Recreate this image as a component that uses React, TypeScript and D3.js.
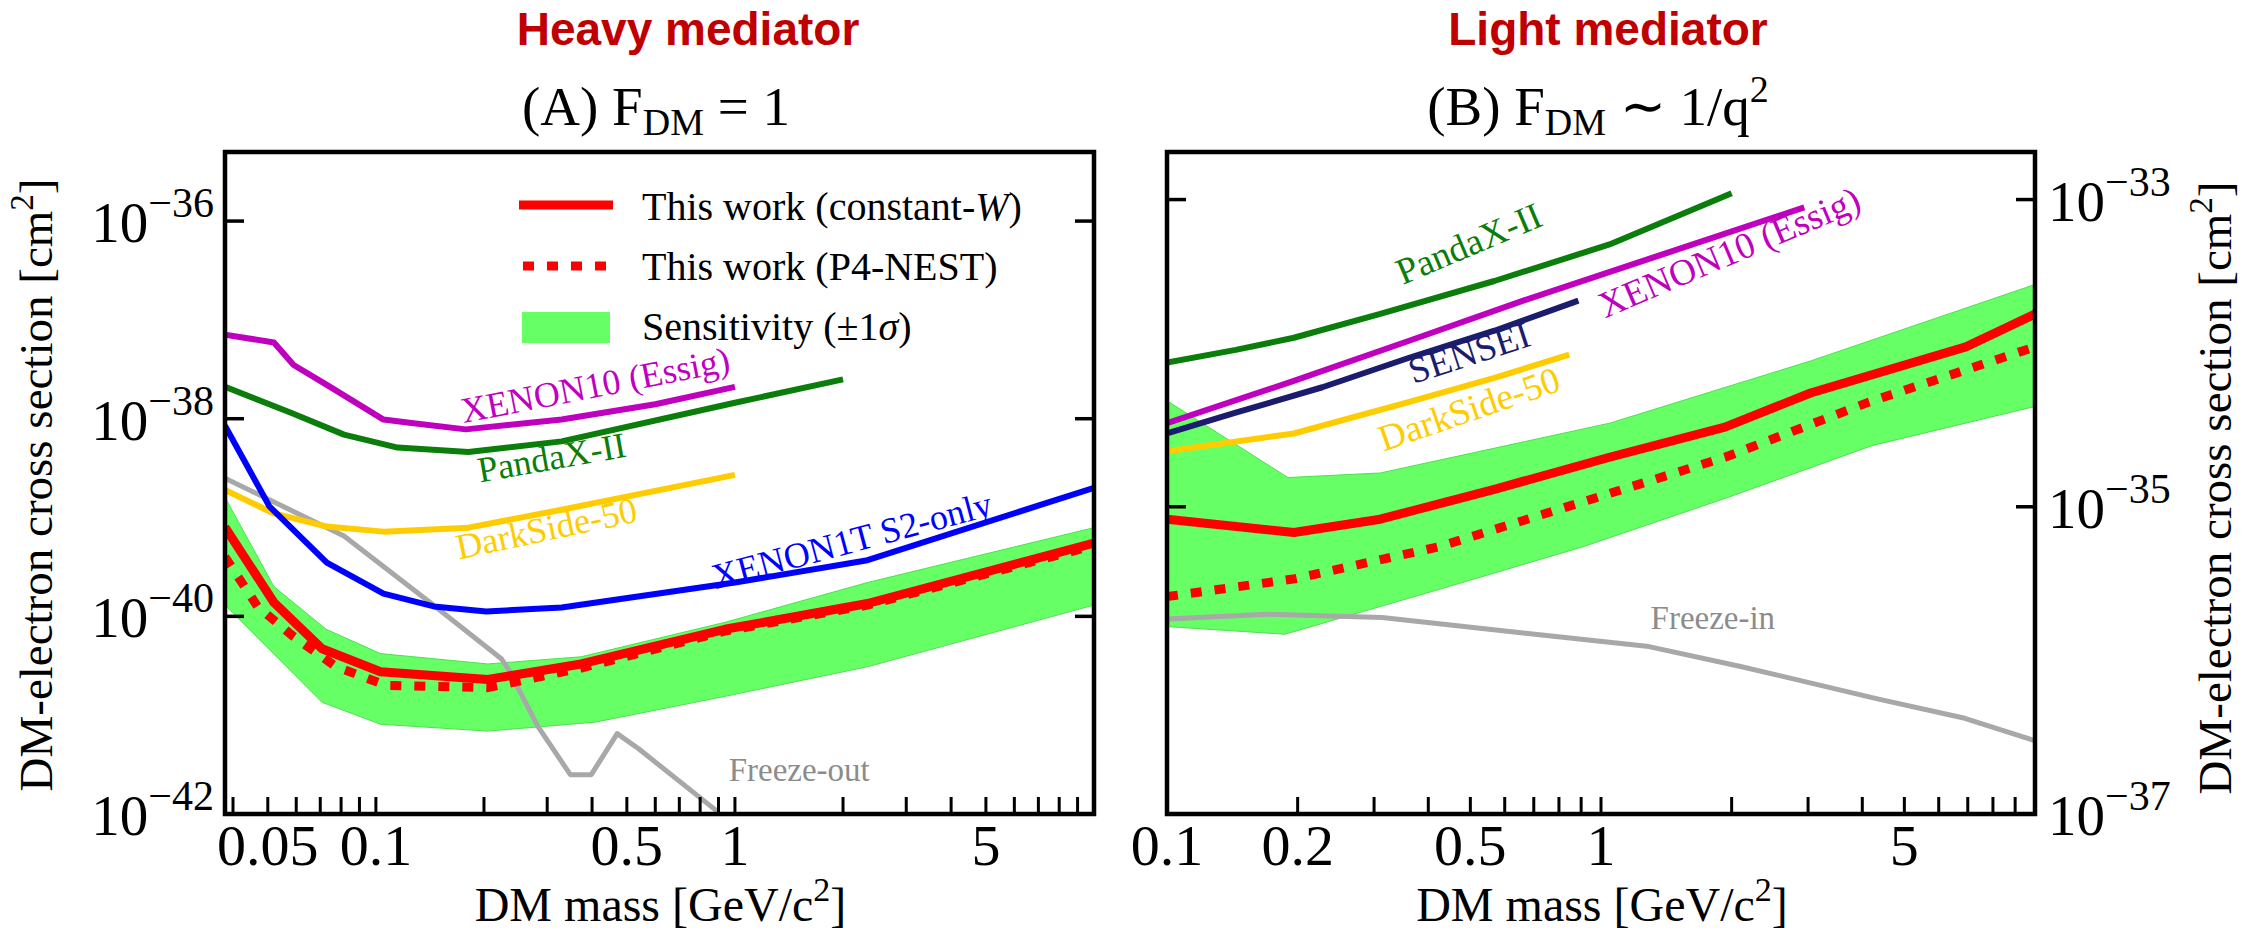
import * as d3 from 'd3'

type Pt = [number, number]

const SERIF = "'Liberation Serif','Times New Roman',serif"
const SANS = "'Liberation Sans',Arial,sans-serif"

const RED = '#ff0000'
const BAND = '#66ff66'
const C_XENON10 = '#bf00bf'
const C_PANDAX = '#0a7d0a'
const C_DARKSIDE = '#ffcc00'
const C_XENON1T = '#0000ff'
const C_SENSEI = '#1c1c6e'
const C_FREEZE = '#a8a8a8'

// ---------- (A) heavy mediator, F_DM = 1 : [mass GeV, sigma cm^2] ----------
const A_X_DOMAIN: Pt = [0.038, 10]
const A_Y_DOMAIN: Pt = [1e-42, 5.0e-36]
const A_X_TICK_LABELS = ['0.05', '0.1', '0.5', '1', '5']
const A_Y_TICKS = [1e-36, 1e-38, 1e-40, 1e-42]
const A_Y_TICK_LABELS = ['−36', '−38', '−40', '−42']

const A_BAND_UPPER: Pt[] = [
  [0.038, 1.6e-39], [0.052, 2.0e-40], [0.0727, 7.4e-41], [0.103, 4.2e-41], [0.205, 3.3e-41],
  [0.373, 3.9e-41], [0.938, 8.7e-41], [2.34, 2.2e-40], [10, 7.9e-40],
]
const A_BAND_LOWER: Pt[] = [
  [0.038, 1.3e-40], [0.0708, 1.35e-41], [0.103, 8.1e-42], [0.205, 6.9e-42], [0.408, 8.5e-42],
  [0.938, 1.55e-41], [2.35, 3.1e-41], [10, 1.3e-40],
]
const A_CONST_W: Pt[] = [
  [0.038, 8.0e-40], [0.052, 1.38e-40], [0.0708, 4.7e-41], [0.103, 2.75e-41], [0.205, 2.3e-41],
  [0.373, 3.3e-41], [0.938, 7.4e-41], [2.34, 1.35e-40], [10, 5.5e-40],
]
const A_P4_NEST: Pt[] = [
  [0.038, 4.0e-40], [0.0468, 1.26e-40], [0.0588, 6.3e-41], [0.0774, 3.1e-41], [0.107, 2.0e-41],
  [0.205, 1.9e-41], [0.373, 3.0e-41], [0.938, 7.1e-41], [2.34, 1.3e-40], [10, 5.2e-40],
]
const A_XENON10: Pt[] = [
  [0.038, 7.1e-38], [0.052, 5.9e-38], [0.059, 3.5e-38], [0.073, 2.2e-38], [0.105, 9.8e-39],
  [0.124, 9.1e-39], [0.178, 7.8e-39], [0.329, 9.8e-39], [0.6, 1.4e-38], [1.0, 2.1e-38],
]
const A_PANDAX: Pt[] = [
  [0.038, 2.1e-38], [0.058, 1.15e-38], [0.0815, 6.9e-39], [0.115, 5.1e-39], [0.181, 4.6e-39],
  [0.329, 5.9e-39], [1.0, 1.45e-38], [2.0, 2.5e-38],
]
const A_DARKSIDE: Pt[] = [
  [0.038, 1.9e-39], [0.052, 1.1e-39], [0.073, 8.1e-40], [0.105, 7.2e-40], [0.181, 7.9e-40],
  [0.329, 1.2e-39], [1.0, 2.7e-39],
]
const A_XENON1T: Pt[] = [
  [0.038, 8.5e-39], [0.0505, 1.3e-39], [0.073, 3.5e-40], [0.105, 1.7e-40], [0.145, 1.26e-40],
  [0.203, 1.12e-40], [0.329, 1.23e-40], [1.0, 2.2e-40], [2.34, 3.7e-40], [10, 2.0e-39],
]
const A_FREEZE_OUT: Pt[] = [
  [0.038, 2.5e-39], [0.0815, 6.5e-40], [0.141, 1.4e-40], [0.224, 3.7e-41], [0.234, 2.9e-41],
  [0.282, 7.8e-42], [0.348, 2.5e-42], [0.398, 2.5e-42], [0.47, 6.5e-42], [0.538, 4.6e-42],
  [0.891, 1.07e-42],
]

// ---------- (B) light mediator, F_DM ~ 1/q^2 ----------
const B_X_DOMAIN: Pt = [0.1, 10]
const B_Y_DOMAIN: Pt = [1e-37, 2.04e-33]
const B_X_TICK_LABELS = ['0.1', '0.2', '0.5', '1', '5']
const B_Y_TICKS = [1e-33, 1e-35, 1e-37]
const B_Y_TICK_LABELS = ['−33', '−35', '−37']

const B_BAND_UPPER: Pt[] = [
  [0.1, 4.9e-35], [0.19, 1.55e-35], [0.31, 1.66e-35], [1.046, 3.5e-35], [3.04, 8.9e-35], [10, 2.8e-34],
]
const B_BAND_LOWER: Pt[] = [
  [0.1, 1.66e-36], [0.187, 1.48e-36], [0.424, 2.9e-36], [0.91, 5.5e-36], [1.96, 1.15e-35],
  [4.21, 2.5e-35], [10, 4.5e-35],
]
const B_CONST_W: Pt[] = [
  [0.1, 8.3e-36], [0.196, 6.8e-36], [0.31, 8.3e-36], [0.568, 1.3e-35], [1.046, 2.1e-35],
  [1.93, 3.3e-35], [3.04, 5.5e-35], [6.93, 1.1e-34], [10, 1.8e-34],
]
const B_P4_NEST: Pt[] = [
  [0.1, 2.6e-36], [0.197, 3.4e-36], [0.424, 5.5e-36], [0.902, 1.07e-35], [1.93, 2.1e-35],
  [4.14, 4.8e-35], [10, 1.1e-34],
]
const B_PANDAX: Pt[] = [
  [0.1, 8.7e-35], [0.144, 1.05e-34], [0.196, 1.26e-34], [0.31, 1.8e-34], [0.568, 2.95e-34],
  [1.046, 5.1e-34], [2.0, 1.1e-33],
]
const B_XENON10: Pt[] = [
  [0.1, 3.5e-35], [0.196, 6.6e-35], [0.36, 1.2e-34], [0.662, 2.2e-34], [1.42, 4.5e-34], [2.94, 8.9e-34],
]
const B_SENSEI: Pt[] = [
  [0.1, 3.0e-35], [0.144, 4.1e-35], [0.228, 6.0e-35], [0.36, 9.3e-35], [0.568, 1.4e-34], [0.887, 2.2e-34],
]
const B_DARKSIDE: Pt[] = [
  [0.1, 2.3e-35], [0.196, 3.0e-35], [0.36, 4.8e-35], [0.568, 6.9e-35], [0.845, 9.8e-35],
]
const B_FREEZE_IN: Pt[] = [
  [0.1, 1.86e-36], [0.17, 2.0e-36], [0.313, 1.9e-36], [0.67, 1.5e-36], [1.29, 1.23e-36],
  [2.11, 9.1e-37], [4.36, 5.6e-37], [6.89, 4.2e-37], [10, 3.0e-37],
]

type Curve = { data: Pt[]; color: string; width: number; dash?: string }
type Label = { text: string; at: Pt; angle: number; color: string; size: number }

const A_CURVES: Curve[] = [
  { data: A_FREEZE_OUT, color: C_FREEZE, width: 5 },
  { data: A_XENON10, color: C_XENON10, width: 6 },
  { data: A_PANDAX, color: C_PANDAX, width: 6 },
  { data: A_DARKSIDE, color: C_DARKSIDE, width: 6 },
  { data: A_XENON1T, color: C_XENON1T, width: 6 },
  { data: A_P4_NEST, color: RED, width: 9, dash: '11 13' },
  { data: A_CONST_W, color: RED, width: 9 },
]
const A_LABELS: Label[] = [
  { text: 'XENON10 (Essig)', at: [0.41, 2.0e-38], angle: -11, color: C_XENON10, size: 36 },
  { text: 'PandaX-II', at: [0.31, 3.7e-39], angle: -10, color: C_PANDAX, size: 36 },
  { text: 'DarkSide-50', at: [0.3, 7.1e-40], angle: -12, color: C_DARKSIDE, size: 36 },
  { text: 'XENON1T S2-only', at: [2.13, 5.4e-40], angle: -15, color: C_XENON1T, size: 36 },
  { text: 'Freeze-out', at: [1.51, 2.6e-42], angle: 0, color: '#8c8c8c', size: 33 },
]

const B_CURVES: Curve[] = [
  { data: B_FREEZE_IN, color: C_FREEZE, width: 5 },
  { data: B_PANDAX, color: C_PANDAX, width: 6 },
  { data: B_XENON10, color: C_XENON10, width: 6 },
  { data: B_SENSEI, color: C_SENSEI, width: 6 },
  { data: B_DARKSIDE, color: C_DARKSIDE, width: 6 },
  { data: B_P4_NEST, color: RED, width: 9, dash: '11 13' },
  { data: B_CONST_W, color: RED, width: 9 },
]
const B_LABELS: Label[] = [
  { text: 'PandaX-II', at: [0.5, 4.9e-34], angle: -23, color: C_PANDAX, size: 37 },
  { text: 'XENON10 (Essig)', at: [1.99, 4.3e-34], angle: -23, color: C_XENON10, size: 37 },
  { text: 'SENSEI', at: [0.5, 9.5e-35], angle: -18, color: C_SENSEI, size: 37 },
  { text: 'DarkSide-50', at: [0.5, 4.1e-35], angle: -19, color: C_DARKSIDE, size: 37 },
  { text: 'Freeze-in', at: [1.81, 1.8e-36], angle: 0, color: '#8c8c8c', size: 33 },
]

type PanelProps = {
  id: string
  frame: { x0: number; x1: number; y0: number; y1: number }
  xDomain: Pt
  yDomain: Pt
  xTickLabels: string[]
  yTicks: number[]
  yTickLabels: string[]
  labelSide: 'left' | 'right'
  bandUpper: Pt[]
  bandLower: Pt[]
  curves: Curve[]
  labels: Label[]
}

function Panel(p: PanelProps) {
  const { x0, x1, y0, y1 } = p.frame
  const x = d3.scaleLog().domain(p.xDomain).range([x0, x1])
  const y = d3.scaleLog().domain(p.yDomain).range([y1, y0])
  const line = d3.line<Pt>().x((d) => x(d[0])).y((d) => y(d[1]))
  const bandPath = line([...p.bandUpper, ...p.bandLower.slice().reverse()]) + 'Z'
  const xTicks = x.ticks().filter((v) => v > p.xDomain[0] * 1.01 && v < p.xDomain[1] * 0.99)
  const labelled = p.xTickLabels.map(Number)

  return (
    <g>
      <defs>
        <clipPath id={`clip-${p.id}`}>
          <rect x={x0} y={y0} width={x1 - x0} height={y1 - y0} />
        </clipPath>
      </defs>
      <g clipPath={`url(#clip-${p.id})`}>
        <path d={bandPath} fill={BAND} stroke="#4fe04f" strokeWidth={1} />
        {p.curves.map((c, i) => (
          <path
            key={i}
            d={line(c.data) ?? ''}
            fill="none"
            stroke={c.color}
            strokeWidth={c.width}
            strokeDasharray={c.dash}
            strokeLinejoin="round"
          />
        ))}
      </g>
      {p.labels.map((l, i) => (
        <text
          key={i}
          transform={`translate(${x(l.at[0])},${y(l.at[1])}) rotate(${l.angle})`}
          textAnchor="middle"
          dominantBaseline="middle"
          fill={l.color}
          fontSize={l.size}
          fontFamily={SERIF}
        >
          {l.text}
        </text>
      ))}

      {/* x ticks: inward, bottom only */}
      {xTicks.map((v, i) => (
        <line key={i} x1={x(v)} x2={x(v)} y1={y1} y2={y1 - 17} stroke="#000" strokeWidth={3} />
      ))}
      {labelled.map((v, i) => (
        <text key={i} x={x(v)} y={865} textAnchor="middle" fontSize={58} fontFamily={SERIF}>
          {p.xTickLabels[i]}
        </text>
      ))}

      {/* y ticks on both sides, labels on one side */}
      {p.yTicks.map((v, i) => (
        <g key={i}>
          <line x1={x0} x2={x0 + 19} y1={y(v)} y2={y(v)} stroke="#000" strokeWidth={3.5} />
          <line x1={x1} x2={x1 - 19} y1={y(v)} y2={y(v)} stroke="#000" strokeWidth={3.5} />
          <text
            x={p.labelSide === 'left' ? x0 - 11 : x1 + 13}
            y={y(v) + 21}
            textAnchor={p.labelSide === 'left' ? 'end' : 'start'}
            fontSize={57}
            fontFamily={SERIF}
          >
            10
            <tspan fontSize={42} dy={-25}>
              {p.yTickLabels[i]}
            </tspan>
          </text>
        </g>
      ))}

      <rect x={x0} y={y0} width={x1 - x0} height={y1 - y0} fill="none" stroke="#000" strokeWidth={4.5} />

      <text x={(x0 + x1) / 2 + 1} y={921} textAnchor="middle" fontSize={48} fontFamily={SERIF}>
        DM mass [GeV/c
        <tspan fontSize={34} dy={-20}>
          2
        </tspan>
        <tspan dy={20}>]</tspan>
      </text>
    </g>
  )
}

function YTitle({ x, y }: { x: number; y: number }) {
  return (
    <text
      transform={`translate(${x},${y}) rotate(-90)`}
      textAnchor="middle"
      fontSize={47}
      fontFamily={SERIF}
    >
      DM-electron cross section [cm
      <tspan fontSize={33} dy={-19}>
        2
      </tspan>
      <tspan dy={19}>]</tspan>
    </text>
  )
}

export default function App() {
  return (
    <svg
      width={2257}
      height={935}
      style={{ position: 'absolute', left: 0, top: 0, background: '#fff' }}
    >
      <text x={688} y={45} textAnchor="middle" fontSize={46} fontWeight="bold" fontFamily={SANS} fill="#c00000">
        Heavy mediator
      </text>
      <text x={1608} y={45} textAnchor="middle" fontSize={46} fontWeight="bold" fontFamily={SANS} fill="#c00000">
        Light mediator
      </text>

      <text x={656} y={125} textAnchor="middle" fontSize={55} fontFamily={SERIF}>
        (A) F
        <tspan fontSize={38} dy={10}>
          DM
        </tspan>
        <tspan dy={-10}> = 1</tspan>
      </text>
      <text x={1598} y={125} textAnchor="middle" fontSize={55} fontFamily={SERIF}>
        (B) F
        <tspan fontSize={38} dy={10}>
          DM
        </tspan>
        <tspan dy={-10}> ∼ 1/q</tspan>
        <tspan fontSize={38} dy={-23}>
          2
        </tspan>
      </text>

      <YTitle x={52} y={485} />
      <YTitle x={2231} y={488} />

      <Panel
        id="a"
        frame={{ x0: 225, x1: 1094, y0: 152, y1: 814 }}
        xDomain={A_X_DOMAIN}
        yDomain={A_Y_DOMAIN}
        xTickLabels={A_X_TICK_LABELS}
        yTicks={A_Y_TICKS}
        yTickLabels={A_Y_TICK_LABELS}
        labelSide="left"
        bandUpper={A_BAND_UPPER}
        bandLower={A_BAND_LOWER}
        curves={A_CURVES}
        labels={A_LABELS}
      />
      <Panel
        id="b"
        frame={{ x0: 1167, x1: 2035, y0: 152, y1: 814 }}
        xDomain={B_X_DOMAIN}
        yDomain={B_Y_DOMAIN}
        xTickLabels={B_X_TICK_LABELS}
        yTicks={B_Y_TICKS}
        yTickLabels={B_Y_TICK_LABELS}
        labelSide="right"
        bandUpper={B_BAND_UPPER}
        bandLower={B_BAND_LOWER}
        curves={B_CURVES}
        labels={B_LABELS}
      />

      {/* legend, panel A */}
      <line x1={519} x2={613} y1={205} y2={205} stroke={RED} strokeWidth={9} />
      <line x1={523} x2={606} y1={266} y2={266} stroke={RED} strokeWidth={9} strokeDasharray="11 13" />
      <rect x={522} y={312} width={88} height={31} fill={BAND} />
      <g fontSize={40} fontFamily={SERIF}>
        <text x={642} y={220}>
          This work (constant-<tspan fontStyle="italic">W</tspan>)
        </text>
        <text x={642} y={280}>
          This work (P4-NEST)
        </text>
        <text x={642} y={340}>
          Sensitivity (±1<tspan fontStyle="italic">σ</tspan>)
        </text>
      </g>
    </svg>
  )
}
